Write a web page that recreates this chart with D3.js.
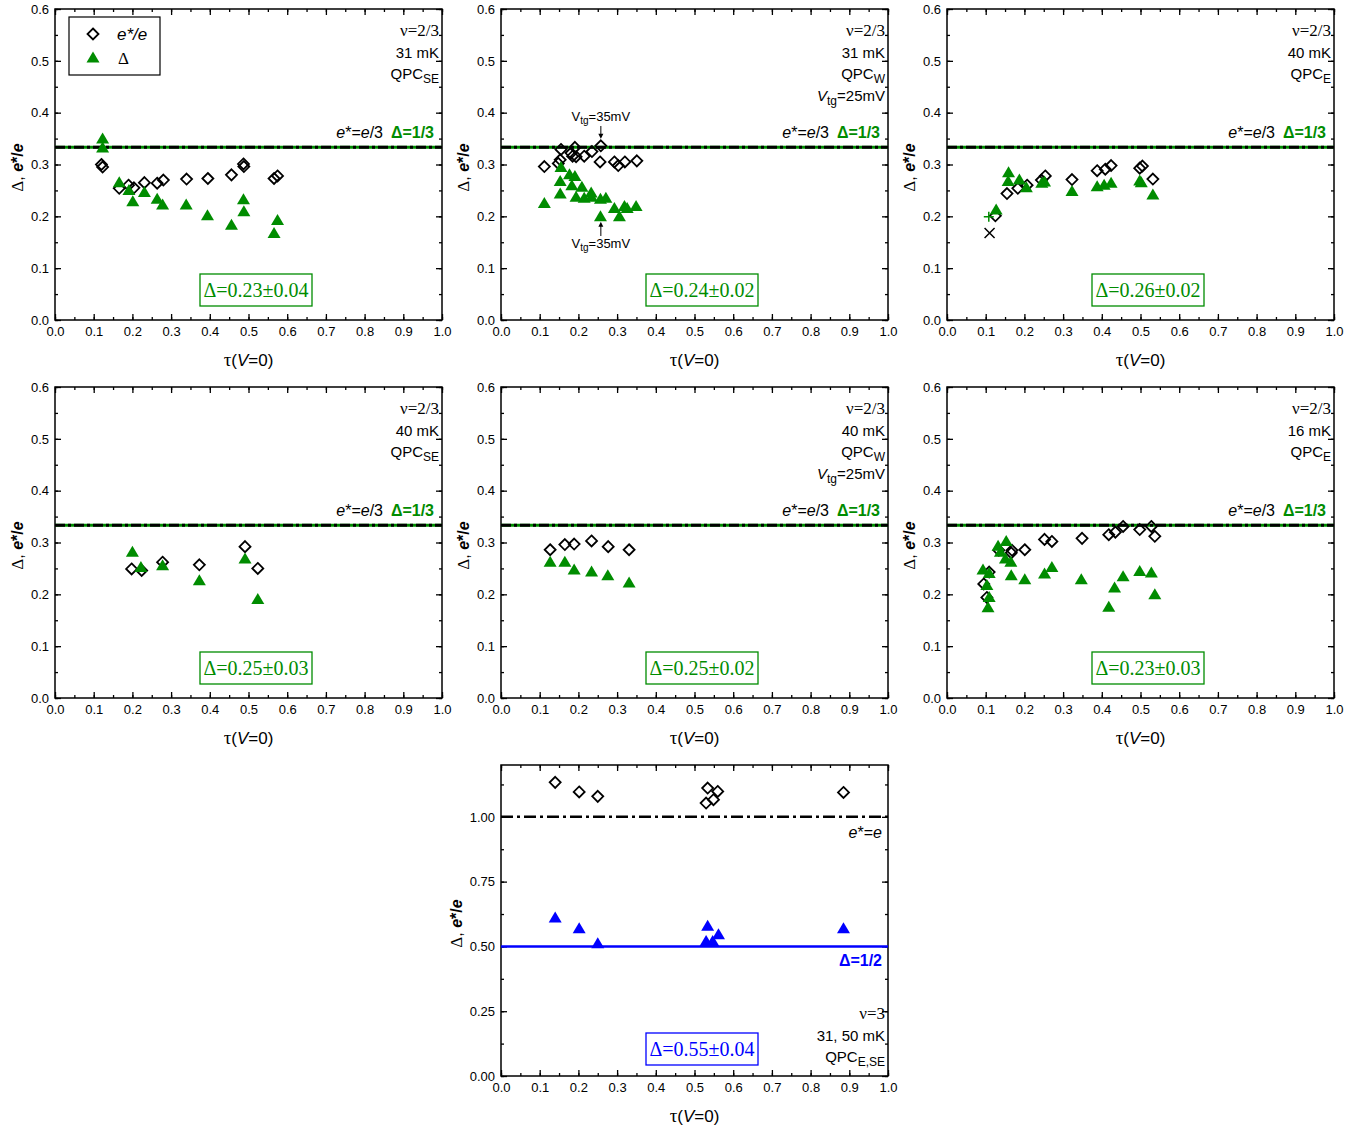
<!DOCTYPE html>
<html><head><meta charset="utf-8">
<script src="https://cdn.jsdelivr.net/npm/d3@7"></script>
<style>
body{margin:0;background:#fff}
</style>
</head><body><svg id="c" width="1369" height="1132" font-family="Liberation Sans, Arial, sans-serif"></svg>
<script>
// ---------------- data ----------------
const xTickValues = [0,0.1,0.2,0.3,0.4,0.5,0.6,0.7,0.8,0.9,1.0];
const xTickLabels = ["0.0","0.1","0.2","0.3","0.4","0.5","0.6","0.7","0.8","0.9","1.0"];
const yTickValues = [0,0.1,0.2,0.3,0.4,0.5,0.6];
const yTickLabels = ["0.0","0.1","0.2","0.3","0.4","0.5","0.6"];
const y7TickValues = [0,0.25,0.5,0.75,1.0];
const y7TickLabels = ["0.00","0.25","0.50","0.75","1.00"];

const p1EStar = [[0.120,0.300],[0.123,0.295],[0.166,0.254],[0.190,0.260],[0.204,0.255],[0.231,0.265],[0.264,0.264],[0.280,0.270],[0.340,0.272],[0.395,0.273],[0.456,0.280],[0.487,0.301],[0.488,0.296],[0.566,0.273],[0.575,0.278]];
const p1Delta = [[0.123,0.349],[0.123,0.332],[0.166,0.265],[0.191,0.250],[0.201,0.228],[0.231,0.246],[0.264,0.233],[0.278,0.222],[0.339,0.222],[0.394,0.201],[0.456,0.183],[0.487,0.232],[0.488,0.209],[0.575,0.192],[0.566,0.167]];

const p2EStar = [[0.112,0.296],[0.148,0.302],[0.153,0.309],[0.155,0.329],[0.181,0.322],[0.185,0.316],[0.191,0.333],[0.194,0.315],[0.215,0.316],[0.235,0.325],[0.258,0.336],[0.256,0.305],[0.293,0.305],[0.303,0.298],[0.320,0.305],[0.351,0.307]];
const p2Delta = [[0.112,0.225],[0.155,0.294],[0.153,0.267],[0.153,0.243],[0.177,0.280],[0.191,0.277],[0.183,0.259],[0.209,0.256],[0.194,0.237],[0.215,0.235],[0.233,0.245],[0.234,0.237],[0.257,0.233],[0.271,0.235],[0.257,0.199],[0.293,0.215],[0.306,0.199],[0.319,0.219],[0.326,0.215],[0.349,0.219]];

const p3EStar = [[0.125,0.201],[0.155,0.244],[0.183,0.254],[0.207,0.260],[0.244,0.270],[0.254,0.278],[0.323,0.271],[0.388,0.288],[0.409,0.291],[0.424,0.298],[0.498,0.293],[0.505,0.297],[0.532,0.272]];
const p3Delta = [[0.127,0.212],[0.159,0.284],[0.158,0.267],[0.187,0.270],[0.205,0.255],[0.245,0.264],[0.252,0.266],[0.323,0.248],[0.388,0.257],[0.406,0.260],[0.424,0.264],[0.498,0.268],[0.502,0.265],[0.532,0.241]];
const p3Plus = [[0.108,0.199]];
const p3Cross = [[0.110,0.168]];

const p4EStar = [[0.198,0.249],[0.224,0.246],[0.278,0.262],[0.373,0.257],[0.491,0.292],[0.524,0.250]];
const p4Delta = [[0.200,0.281],[0.222,0.252],[0.278,0.255],[0.373,0.226],[0.491,0.268],[0.524,0.190]];

const p5EStar = [[0.127,0.286],[0.165,0.296],[0.189,0.297],[0.234,0.303],[0.277,0.292],[0.331,0.286]];
const p5Delta = [[0.127,0.262],[0.165,0.262],[0.189,0.247],[0.234,0.243],[0.276,0.236],[0.331,0.222]];

const p6EStar = [[0.095,0.220],[0.109,0.243],[0.103,0.194],[0.134,0.285],[0.168,0.285],[0.166,0.280],[0.201,0.286],[0.252,0.306],[0.271,0.302],[0.349,0.308],[0.418,0.315],[0.435,0.320],[0.455,0.331],[0.498,0.325],[0.528,0.331],[0.537,0.312]];
const p6Delta = [[0.093,0.247],[0.109,0.240],[0.103,0.217],[0.109,0.194],[0.106,0.174],[0.132,0.293],[0.138,0.281],[0.153,0.302],[0.151,0.268],[0.165,0.262],[0.166,0.236],[0.201,0.228],[0.252,0.239],[0.271,0.252],[0.347,0.228],[0.418,0.175],[0.433,0.212],[0.455,0.234],[0.498,0.244],[0.528,0.241],[0.537,0.199]];

const p7EStar = [[0.140,1.133],[0.202,1.096],[0.250,1.079],[0.534,1.111],[0.530,1.053],[0.549,1.066],[0.560,1.098],[0.885,1.094]];
const p7Delta = [[0.140,0.610],[0.202,0.568],[0.250,0.510],[0.534,0.578],[0.530,0.519],[0.547,0.519],[0.562,0.545],[0.885,0.568]];

const resultLabels = ["Δ=0.23±0.04","Δ=0.24±0.02","Δ=0.26±0.02","Δ=0.25±0.03","Δ=0.25±0.02","Δ=0.23±0.03","Δ=0.55±0.04"];
const tempLabels = ["31 mK","31 mK","40 mK","40 mK","40 mK","16 mK","31, 50 mK"];
const qpcSubs = ["SE","W","E","SE","W","E","E,SE"];

// ---------------- drawing ----------------
const GREEN = "#008c00", BLUE = "#0000ff";
const SANS = "Liberation Sans, Arial, sans-serif";
const SERIF = "Liberation Serif, Times New Roman, serif";
const svg = d3.select("#c");
const W = 387, H = 311;

function panel(cfg){
  const g = svg.append("g");
  const x = d3.scaleLinear().domain([0,1]).range([cfg.left, cfg.left+W]);
  const y = d3.scaleLinear().domain([0,cfg.ymax]).range([cfg.top+H, cfg.top]);
  const bottom = cfg.top+H, right = cfg.left+W;

  // minor ticks
  const xMinor = d3.range(0,1.0001,0.05);
  const yMinor = d3.range(0,cfg.ymax+0.0001,cfg.yMinorStep);
  const mk = (axis, tr, vals, size) => {
    const a = g.append("g").attr("transform",tr).call(axis.tickValues(vals).tickSize(size).tickFormat(""));
    a.select(".domain").remove();
    a.selectAll("line").attr("stroke","#000").attr("stroke-width",1.3);
  };
  mk(d3.axisBottom(x), `translate(0,${bottom})`, xMinor, -3);
  mk(d3.axisTop(x), `translate(0,${cfg.top})`, xMinor, -3);
  mk(d3.axisLeft(y), `translate(${cfg.left},0)`, yMinor, -3);
  mk(d3.axisRight(y), `translate(${right},0)`, yMinor, -3);
  mk(d3.axisTop(x), `translate(0,${cfg.top})`, xTickValues, -6);
  mk(d3.axisRight(y), `translate(${right},0)`, cfg.yTicks, -6);

  // major ticks with labels
  const xa = g.append("g").attr("transform",`translate(0,${bottom})`)
    .call(d3.axisBottom(x).tickValues(xTickValues).tickSize(-6).tickPadding(7)
      .tickFormat((d,i)=>xTickLabels[i]));
  xa.select(".domain").remove();
  xa.selectAll("line").attr("stroke","#000").attr("stroke-width",1.3);
  xa.selectAll("text").attr("font-size",13).attr("font-family",SANS).attr("fill","#000");
  const ya = g.append("g").attr("transform",`translate(${cfg.left},0)`)
    .call(d3.axisLeft(y).tickValues(cfg.yTicks).tickSize(-6).tickPadding(6)
      .tickFormat((d,i)=>cfg.yLabels[i]));
  ya.select(".domain").remove();
  ya.selectAll("line").attr("stroke","#000").attr("stroke-width",1.3);
  ya.selectAll("text").attr("font-size",13).attr("font-family",SANS).attr("fill","#000");

  // frame
  g.append("rect").attr("x",cfg.left).attr("y",cfg.top).attr("width",W).attr("height",H)
    .attr("fill","none").attr("stroke","#000").attr("stroke-width",1.5);

  // axis titles
  const xt = g.append("text").attr("x",cfg.left+W/2).attr("y",bottom+46)
    .attr("text-anchor","middle").attr("font-size",17);
  xt.append("tspan").attr("font-family",SERIF).attr("font-size",19).text("τ");
  xt.append("tspan").text("(");
  xt.append("tspan").attr("font-style","italic").text("V");
  xt.append("tspan").text("=0)");
  const yt = g.append("text").attr("transform",`translate(${cfg.left-cfg.yTitleOff},${cfg.top+H/2+3}) rotate(-90)`)
    .attr("text-anchor","middle").attr("font-size",16);
  yt.append("tspan").attr("font-family",SERIF).attr("font-size",17).text("Δ");
  yt.append("tspan").text(", ");
  yt.append("tspan").attr("font-style","italic").attr("font-weight","bold").text("e");
  yt.append("tspan").attr("font-weight","bold").text("*/");
  yt.append("tspan").attr("font-style","italic").attr("font-weight","bold").text("e");

  // reference lines
  if (cfg.nu === "2/3"){
    const yy = y(1/3);
    g.append("line").attr("x1",cfg.left).attr("x2",right).attr("y1",yy).attr("y2",yy)
      .attr("stroke",GREEN).attr("stroke-width",3);
    g.append("line").attr("x1",cfg.left).attr("x2",right).attr("y1",yy).attr("y2",yy)
      .attr("stroke","#000").attr("stroke-width",3).attr("stroke-dasharray","10,3,3,3");
    const t = g.append("text").attr("x",right-59).attr("y",yy-9).attr("text-anchor","end").attr("font-size",16);
    t.append("tspan").attr("font-style","italic").text("e");
    t.append("tspan").text("*=");
    t.append("tspan").attr("font-style","italic").text("e");
    t.append("tspan").text("/3");
    g.append("text").attr("x",right-8).attr("y",yy-9).attr("text-anchor","end").attr("font-size",16)
      .attr("font-weight","bold").attr("fill",GREEN).text("Δ=1/3");
  } else {
    const y1 = y(1.0), yh = y(0.5);
    g.append("line").attr("x1",cfg.left).attr("x2",right).attr("y1",y1).attr("y2",y1)
      .attr("stroke","#000").attr("stroke-width",2.5).attr("stroke-dasharray","12,4,3,4");
    g.append("line").attr("x1",cfg.left).attr("x2",right).attr("y1",yh).attr("y2",yh)
      .attr("stroke",BLUE).attr("stroke-width",2.5);
    const t = g.append("text").attr("x",right-6).attr("y",y1+21).attr("text-anchor","end").attr("font-size",16);
    t.append("tspan").attr("font-style","italic").text("e");
    t.append("tspan").text("*=");
    t.append("tspan").attr("font-style","italic").text("e");
    g.append("text").attr("x",right-6).attr("y",yh+20).attr("text-anchor","end").attr("font-size",16)
      .attr("font-weight","bold").attr("fill",BLUE).text("Δ=1/2");
  }

  // corner annotation
  const col = cfg.color;
  const ax = right-3;
  const lines = cfg.cornerTop;
  g.append("text").attr("x",ax).attr("y",lines).attr("text-anchor","end").attr("font-size",17)
    .attr("font-family",SERIF).text("ν="+cfg.nu);
  g.append("text").attr("x",ax).attr("y",lines+22).attr("text-anchor","end").attr("font-size",15).text(cfg.temp);
  const q = g.append("text").attr("x",ax).attr("y",lines+43).attr("text-anchor","end").attr("font-size",15);
  q.append("tspan").text("QPC");
  q.append("tspan").attr("font-size",12).attr("dy",4).text(cfg.qpc);
  if (cfg.vtg){
    const v = g.append("text").attr("x",ax).attr("y",lines+65).attr("text-anchor","end").attr("font-size",15);
    v.append("tspan").attr("font-style","italic").text("V");
    v.append("tspan").attr("font-size",12).attr("dy",4).text("tg");
    v.append("tspan").attr("dy",-4).text("=25mV");
  }

  // result box
  const bx = cfg.left+145, by = cfg.boxY;
  g.append("rect").attr("x",bx).attr("y",by).attr("width",112).attr("height",32)
    .attr("fill","#fff").attr("stroke",col).attr("stroke-width",1.3);
  g.append("text").attr("x",bx+56).attr("y",by+23).attr("text-anchor","middle").attr("font-size",20)
    .attr("font-family",SERIF).attr("fill",col).text(cfg.result);

  // markers
  const diamond = "M0,-5.5L5.5,0L0,5.5L-5.5,0Z";
  const tri = "M0,-6.5L6.5,4.5L-6.5,4.5Z";
  g.append("g").selectAll("path").data(cfg.estar).join("path")
    .attr("d",diamond).attr("transform",d=>`translate(${x(d[0])},${y(d[1])})`)
    .attr("fill","none").attr("stroke","#000").attr("stroke-width",1.8);
  g.append("g").selectAll("path").data(cfg.delta).join("path")
    .attr("d",tri).attr("transform",d=>`translate(${x(d[0])},${y(d[1])})`)
    .attr("fill",col);
  if (cfg.plus){
    g.append("g").selectAll("path").data(cfg.plus).join("path")
      .attr("d","M-5,0H5M0,-5V5").attr("transform",d=>`translate(${x(d[0])},${y(d[1])})`)
      .attr("stroke",GREEN).attr("stroke-width",1.5);
  }
  if (cfg.cross){
    g.append("g").selectAll("path").data(cfg.cross).join("path")
      .attr("d","M-5,-5L5,5M5,-5L-5,5").attr("transform",d=>`translate(${x(d[0])},${y(d[1])})`)
      .attr("stroke","#000").attr("stroke-width",1.5);
  }
  return {g,x,y};
}

const rowTop = [9, 387, 765];
const colLeft = [55, 501, 947];
const defs = [
  {left:colLeft[0], top:rowTop[0], estar:p1EStar, delta:p1Delta},
  {left:colLeft[1], top:rowTop[0], estar:p2EStar, delta:p2Delta, vtg:true},
  {left:colLeft[2], top:rowTop[0], estar:p3EStar, delta:p3Delta, plus:p3Plus, cross:p3Cross},
  {left:colLeft[0], top:rowTop[1], estar:p4EStar, delta:p4Delta},
  {left:colLeft[1], top:rowTop[1], estar:p5EStar, delta:p5Delta, vtg:true},
  {left:colLeft[2], top:rowTop[1], estar:p6EStar, delta:p6Delta},
];
const panels = defs.map((d,i)=>panel(Object.assign({
  ymax:0.6, yMinorStep:0.05, yTicks:yTickValues, yLabels:yTickLabels, yTitleOff:32,
  nu:"2/3", temp:tempLabels[i], qpc:qpcSubs[i], result:resultLabels[i], color:GREEN,
  cornerTop:d.top+27, boxY:d.top+265
}, d)));

const p7 = panel({left:colLeft[1], top:rowTop[2], ymax:1.2, yMinorStep:0.125, yTicks:y7TickValues, yLabels:y7TickLabels,
  yTitleOff:39,
  estar:p7EStar, delta:p7Delta, nu:"3", temp:tempLabels[6], qpc:qpcSubs[6], result:resultLabels[6], color:BLUE,
  cornerTop:rowTop[2]+254, boxY:rowTop[2]+268});

// legend in panel 1
(function(){
  const g = panels[0].g;
  g.append("rect").attr("x",69).attr("y",17).attr("width",91).attr("height",58)
    .attr("fill","#fff").attr("stroke","#000").attr("stroke-width",1.2);
  g.append("path").attr("d","M0,-5.5L5.5,0L0,5.5L-5.5,0Z").attr("transform","translate(93,34)")
    .attr("fill","none").attr("stroke","#000").attr("stroke-width",1.8);
  g.append("path").attr("d","M0,-6.5L6.5,4.5L-6.5,4.5Z").attr("transform","translate(93,58)").attr("fill",GREEN);
  g.append("text").attr("x",117).attr("y",40).attr("font-size",17).attr("font-style","italic").text("e*/e");
  g.append("text").attr("x",118).attr("y",64).attr("font-size",17)
    .attr("font-family",SERIF).text("Δ");
})();

// Vtg=35mV annotations in panel 2
(function(){
  const {g,x,y} = panels[1];
  const px = x(0.258);
  const lab = (yy) => {
    const t = g.append("text").attr("x",px).attr("y",yy).attr("text-anchor","middle").attr("font-size",13);
    t.append("tspan").text("V");
    t.append("tspan").attr("font-size",10).attr("dy",3).text("tg");
    t.append("tspan").attr("dy",-3).text("=35mV");
  };
  lab(121);
  lab(248);
  const arrow = (y1,y2,dir) => {
    g.append("line").attr("x1",px).attr("x2",px).attr("y1",y1).attr("y2",y2).attr("stroke","#000").attr("stroke-width",1);
    g.append("path").attr("d",`M${px-2.5},${y2-3*dir}L${px+2.5},${y2-3*dir}L${px},${y2+2*dir}Z`).attr("fill","#000");
  };
  arrow(126, y(0.336)-9, 1);
  arrow(236, y(0.199)+7, -1);
})();
</script></body></html>
